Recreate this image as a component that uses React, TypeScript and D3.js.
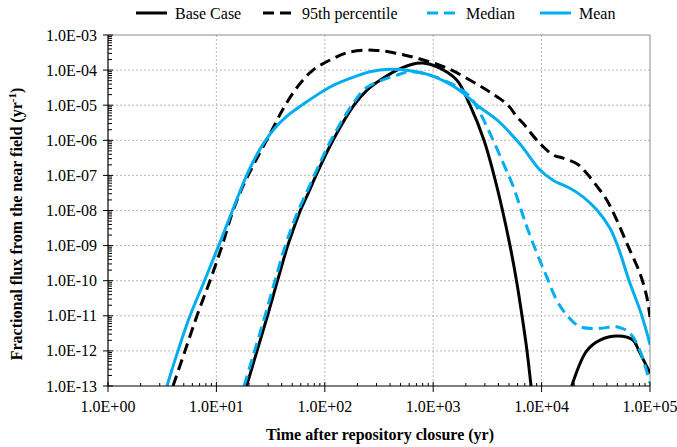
import React from "react";
import * as d3 from "d3";

type Pt = [number, number];

const xTicks = [1, 10, 100, 1000, 10000, 100000];
const xTickLabels = ["1.0E+00", "1.0E+01", "1.0E+02", "1.0E+03", "1.0E+04", "1.0E+05"];
const yTicks = [1e-13, 1e-12, 1e-11, 1e-10, 1e-9, 1e-8, 1e-7, 1e-6, 1e-5, 1e-4, 1e-3];
const yTickLabels = [
  "1.0E-13", "1.0E-12", "1.0E-11", "1.0E-10", "1.0E-09", "1.0E-08",
  "1.0E-07", "1.0E-06", "1.0E-05", "1.0E-04", "1.0E-03",
];

// [time (yr), fractional flux (1/yr)]
const baseCaseEarly: Pt[] = [
  [19.0, 1e-13], [23.7, 1e-12], [29.6, 1e-11], [36.6, 1e-10], [45.5, 1e-9],
  [51.5, 3e-9], [59.5, 1e-8], [70, 3e-8], [83, 1e-7], [119, 1e-6], [186, 1e-5],
  [245, 2.7e-5], [337, 5.6e-5], [464, 1.0e-4], [704, 1.56e-4], [805, 1.59e-4],
  [1077, 1.25e-4], [1648, 5.2e-5], [2185, 1e-5], [2942, 1e-6], [3638, 1e-7],
  [4359, 1e-8], [5112, 1e-9], [5868, 1e-10], [6597, 1e-11], [7334, 1e-12], [7986, 1e-13],
];
const baseCaseLate: Pt[] = [
  [18970, 1e-13], [26060, 1e-12], [34590, 2.04e-12], [50700, 2.66e-12],
  [69660, 2.04e-12], [79070, 1e-12], [100000, 2.3e-13],
];
const percentile95: Pt[] = [
  [3.98, 1e-13], [5.13, 1e-12], [6.62, 1e-11], [8.73, 1e-10], [11.3, 1e-9],
  [13.9, 7.9e-9], [17.6, 5.0e-8], [23.2, 2.75e-7], [31.2, 1.5e-6], [41.2, 7.8e-6],
  [56.6, 3.5e-5], [77.8, 1.0e-4], [112, 1.94e-4], [164, 3.2e-4], [278, 3.7e-4],
  [460, 3.0e-4], [755, 2.07e-4], [1333, 1.15e-4], [2255, 4.9e-5], [3450, 2.2e-5],
  [4900, 1.0e-5], [5890, 4.7e-6], [6780, 3.0e-6], [9020, 1.02e-6], [12820, 3.8e-7],
  [15770, 3.1e-7], [21670, 2.04e-7], [26060, 1.15e-7], [32220, 5.0e-8], [39900, 2.0e-8],
  [49300, 5.4e-9], [63100, 9.3e-10], [80900, 1.6e-10], [93300, 3.5e-11], [100000, 9.3e-12],
];
const median: Pt[] = [
  [18.0, 1e-13], [22.5, 1e-12], [28.1, 1e-11], [34.7, 1e-10], [43.2, 1e-9],
  [49, 3e-9], [57, 1e-8], [67, 3e-8], [80, 1e-7], [114, 1e-6], [178, 1e-5], [240, 3.1e-5],
  [323, 4.9e-5], [461, 7.2e-5], [611, 9.0e-5], [934, 7.2e-5], [1648, 3.4e-5],
  [2185, 1.75e-5], [2518, 9.1e-6], [3340, 1.58e-6], [4435, 2.2e-7], [5480, 4.8e-8],
  [6780, 6.7e-9], [7290, 3.5e-9], [9020, 6.2e-10], [11140, 1.3e-10], [13770, 2.8e-11],
  [17060, 1.05e-11], [22600, 4.9e-12], [34600, 4.4e-12], [49300, 4.9e-12],
  [65300, 3.2e-12], [80900, 1e-12], [100000, 1.2e-13],
];
const mean: Pt[] = [
  [3.5, 1e-13], [4.42, 1e-12], [5.71, 1e-11], [7.77, 1e-10], [10.5, 1e-9],
  [13.9, 9.1e-9], [19.0, 1e-7], [22.7, 3.1e-7], [27.8, 9.0e-7], [34.7, 2.24e-6],
  [44.8, 4.9e-6], [61.6, 1.01e-5], [112, 3.3e-5], [171, 5.8e-5], [261, 9.0e-5], [400, 1.05e-4],
  [611, 9.6e-5], [934, 7.2e-5], [1658, 3.0e-5], [2536, 1.0e-5], [3878, 3.8e-6],
  [6319, 7.8e-7], [9665, 1.42e-7], [12740, 7.3e-8], [18280, 4.3e-8], [24090, 2.45e-8],
  [32440, 1.03e-8], [42760, 3.1e-9], [50670, 9.2e-10], [65400, 8.4e-11],
  [80840, 1.45e-11], [93820, 3.2e-12], [100000, 1.5e-12],
];

const black = "#000000";
const blue = "#00AEEF";
const serif = '"Liberation Serif", "DejaVu Serif", serif';

const legendItems = [
  { label: "Base Case", color: black, dash: "none", x: 136 },
  { label: "95th percentile", color: black, dash: "11 6", x: 263 },
  { label: "Median", color: blue, dash: "11 6", x: 427 },
  { label: "Mean", color: blue, dash: "none", x: 540 },
];

export default function App() {
  const width = 677;
  const height = 447;
  const left = 108;
  const right = 650;
  const top = 35;
  const bottom = 386;

  const x = d3.scaleLog().domain([1, 1e5]).range([left, right]);
  const y = d3.scaleLog().domain([1e-13, 1e-3]).range([bottom, top]);

  const line = d3
    .line<Pt>()
    .x((d) => x(d[0]))
    .y((d) => y(d[1]))
    .curve(d3.curveCatmullRom.alpha(0.5));

  const xMinor: number[] = [];
  xTicks.slice(0, -1).forEach((d) => {
    for (let k = 2; k <= 9; k++) xMinor.push(d * k);
  });
  const yMinor: number[] = [];
  yTicks.slice(0, -1).forEach((d) => {
    for (let k = 2; k <= 9; k++) yMinor.push(d * k);
  });

  const series = [
    { data: baseCaseEarly, color: black, dash: "none" },
    { data: baseCaseLate, color: black, dash: "none" },
    { data: percentile95, color: black, dash: "11 6" },
    { data: median, color: blue, dash: "11 6" },
    { data: mean, color: blue, dash: "none" },
  ];

  const textStyle = { fontFamily: serif };

  return (
    <svg
      width={width}
      height={height}
      style={{ position: "absolute", left: 0, top: 0, background: "#fff", fontFamily: serif }}
    >
      <defs>
        <clipPath id="plot">
          <rect x={left} y={top - 2} width={right - left} height={bottom - top + 2} />
        </clipPath>
      </defs>

      {/* grid */}
      {xTicks.slice(1, -1).map((t) => (
        <line key={"gx" + t} x1={x(t)} x2={x(t)} y1={top} y2={bottom}
          stroke="#b8b8b8" strokeWidth={1} strokeDasharray="2 2" />
      ))}
      {yTicks.slice(1, -1).map((t) => (
        <line key={"gy" + t} x1={left} x2={right} y1={y(t)} y2={y(t)}
          stroke="#b8b8b8" strokeWidth={1} strokeDasharray="2 2" />
      ))}
      <line x1={left} x2={right} y1={top} y2={top} stroke="#8c8c8c" strokeWidth={1} />
      <line x1={right} x2={right} y1={top} y2={bottom} stroke="#8c8c8c" strokeWidth={1} />

      {/* series */}
      <g clipPath="url(#plot)">
        {series.map((s, i) => (
          <path key={i} d={line(s.data) || ""} fill="none" stroke={s.color}
            strokeWidth={3} strokeDasharray={s.dash} />
        ))}
      </g>

      {/* axes */}
      <line x1={left} x2={left} y1={top} y2={bottom} stroke="#000" strokeWidth={1.2} />
      <line x1={left} x2={right} y1={bottom} y2={bottom} stroke="#000" strokeWidth={1.2} />
      {yTicks.map((t, i) => (
        <g key={"yt" + t}>
          <line x1={left - 5} x2={left + 5} y1={y(t)} y2={y(t)} stroke="#000" />
          <text x={left - 11} y={y(t) + 5.5} textAnchor="end" fontSize={16} style={textStyle}>
            {yTickLabels[i]}
          </text>
        </g>
      ))}
      {yMinor.map((t) => (
        <line key={"ym" + t} x1={left} x2={left + 4} y1={y(t)} y2={y(t)} stroke="#000" />
      ))}
      {xTicks.map((t, i) => (
        <g key={"xt" + t}>
          <line x1={x(t)} x2={x(t)} y1={bottom - 4} y2={bottom + 6} stroke="#000" />
          <text x={x(t)} y={bottom + 26} textAnchor="middle" fontSize={16} style={textStyle}>
            {xTickLabels[i]}
          </text>
        </g>
      ))}
      {xMinor.map((t) => (
        <line key={"xm" + t} x1={x(t)} x2={x(t)} y1={bottom - 3} y2={bottom} stroke="#000" />
      ))}

      {/* axis titles */}
      <text x={380} y={440} textAnchor="middle" fontSize={16} fontWeight="bold" style={textStyle}>
        Time after repository closure (yr)
      </text>
      <text transform="translate(22,224) rotate(-90)" textAnchor="middle" fontSize={16}
        fontWeight="bold" style={textStyle}>
        Fractional flux from the near field (yr
        <tspan fontSize={11} dy={-6}>-1</tspan>
        <tspan dy={6}>)</tspan>
      </text>

      {/* legend */}
      {legendItems.map((d) => (
        <g key={d.label}>
          <line x1={d.x} x2={d.x + 31} y1={13} y2={13} stroke={d.color} strokeWidth={3}
            strokeDasharray={d.dash} />
          <text x={d.x + 39} y={18.5} fontSize={16} style={textStyle}>{d.label}</text>
        </g>
      ))}
    </svg>
  );
}
